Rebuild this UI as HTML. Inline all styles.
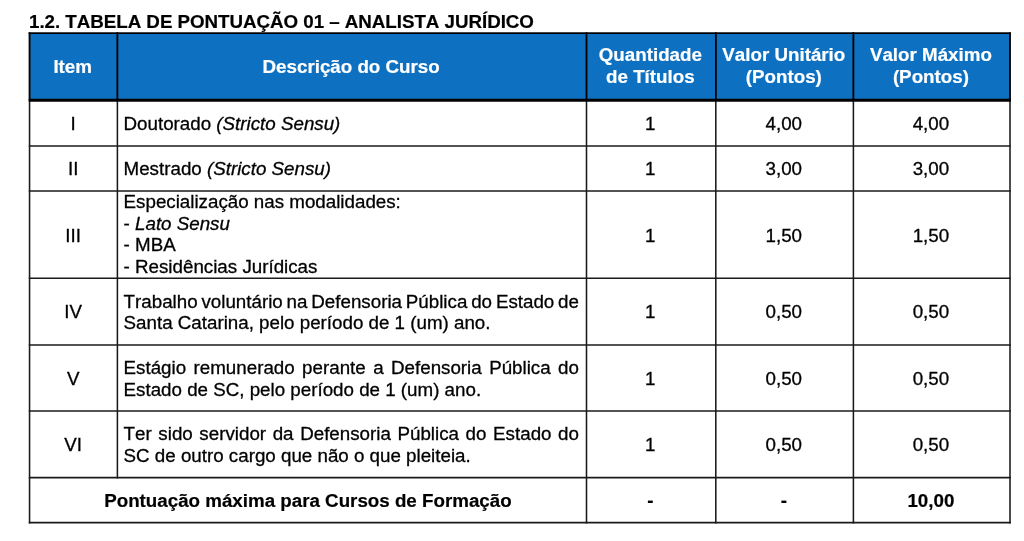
<!DOCTYPE html>
<html lang="pt-BR">
<head>
<meta charset="utf-8">
<title>1.2. Tabela de Pontuação 01 – Analista Jurídico</title>
<style>
html,body{margin:0;padding:0;background:#fff;}
body{position:relative;width:1024px;height:541px;overflow:hidden;font-family:"Liberation Sans",sans-serif;font-size:18.76px;line-height:22px;color:#000;font-kerning:none;}
/* ruled grid + header fill */
svg.grid{position:absolute;left:0;top:0;width:1024px;height:541px;}
/* text layer (own compositing layer => greyscale antialiasing like the reference) */
.sheet{position:absolute;left:0;top:0;width:1024px;height:541px;will-change:transform;-webkit-text-stroke:0.3px;}
.title{position:absolute;left:29px;top:11px;margin:0;height:22px;font-size:inherit;font-weight:bold;white-space:pre;letter-spacing:-0.03px;-webkit-text-stroke:0.2px;}
.row{position:absolute;left:0;width:1024px;}
.cell{position:absolute;top:0;bottom:0;text-align:center;}
.cell.desc{text-align:left;}
.ln{position:absolute;left:0;right:0;height:22px;white-space:pre;}
.desc .ln{left:6.2px;}
.head,.foot{font-weight:bold;-webkit-text-stroke:0.2px;}
.head{color:#fff;}
i{font-style:italic;}
</style>
</head>
<body>
<svg class="grid" width="1024" height="541" viewBox="0 0 1024 541" aria-hidden="true">
<rect x="29.55" y="33.2" width="980.45" height="67.05" fill="#0e70c1"/>
<g stroke="#1a1a1a" stroke-width="1.55" fill="none" stroke-linecap="square">
<line x1="29.55" y1="33.2" x2="1010.0" y2="33.2"/>
<line x1="29.55" y1="146.0" x2="1010.0" y2="146.0"/>
<line x1="29.55" y1="191.0" x2="1010.0" y2="191.0"/>
<line x1="29.55" y1="278.2" x2="1010.0" y2="278.2"/>
<line x1="29.55" y1="344.9" x2="1010.0" y2="344.9"/>
<line x1="29.55" y1="411.0" x2="1010.0" y2="411.0"/>
<line x1="29.55" y1="477.6" x2="1010.0" y2="477.6"/>
<line x1="29.55" y1="522.6" x2="1010.0" y2="522.6"/>
<line x1="29.55" y1="33.2" x2="29.55" y2="522.6"/>
<line x1="117.4" y1="33.2" x2="117.4" y2="477.6"/>
<line x1="586.5" y1="33.2" x2="586.5" y2="522.6"/>
<line x1="715.8" y1="33.2" x2="715.8" y2="522.6"/>
<line x1="853.4" y1="33.2" x2="853.4" y2="522.6"/>
<line x1="1010.0" y1="33.2" x2="1010.0" y2="522.6"/>
</g>
<g stroke="#000" stroke-width="1.55" fill="none" stroke-linecap="square">
<line x1="29.55" y1="33.2" x2="1010.0" y2="33.2"/>
<line x1="29.55" y1="33.2" x2="29.55" y2="100.25"/>
<line x1="117.4" y1="33.2" x2="117.4" y2="100.25"/>
<line x1="586.5" y1="33.2" x2="586.5" y2="100.25"/>
<line x1="715.8" y1="33.2" x2="715.8" y2="100.25"/>
<line x1="853.4" y1="33.2" x2="853.4" y2="100.25"/>
<line x1="1010.0" y1="33.2" x2="1010.0" y2="100.25"/>
</g>
<line x1="28.775" y1="100.25" x2="1010.775" y2="100.25" stroke="#000" stroke-width="2.8"/>
</svg>
<main class="sheet">
<h1 class="title">1.2. TABELA DE PONTUAÇÃO 01 – ANALISTA JURÍDICO</h1>
<section class="row head" style="top:33px;height:67px">
<div class="cell" style="left:28.75px;width:87.85px"><span class="ln" style="top:23px">Item</span></div>
<div class="cell" style="left:116.60px;width:469.10px"><span class="ln" style="top:23px">Descrição do Curso</span></div>
<div class="cell" style="left:585.70px;width:129.30px"><span class="ln" style="top:11px">Quantidade</span><span class="ln" style="top:33px">de Títulos</span></div>
<div class="cell" style="left:715.00px;width:137.60px"><span class="ln" style="top:11px">Valor Unitário</span><span class="ln" style="top:33px">(Pontos)</span></div>
<div class="cell" style="left:852.60px;width:156.60px"><span class="ln" style="top:11px">Valor Máximo</span><span class="ln" style="top:33px">(Pontos)</span></div>
</section>
<section class="row" style="top:100px;height:46px">
<div class="cell" style="left:29.25px;width:87.85px"><span class="ln" style="top:13px">I</span></div>
<div class="cell desc" style="left:117.40px;width:469.10px"><span class="ln" style="top:13px">Doutorado <i>(Stricto Sensu)</i></span></div>
<div class="cell" style="left:585.70px;width:129.30px"><span class="ln" style="top:13px">1</span></div>
<div class="cell" style="left:715.00px;width:137.60px"><span class="ln" style="top:13px">4,00</span></div>
<div class="cell" style="left:852.60px;width:156.60px"><span class="ln" style="top:13px">4,00</span></div>
</section>
<section class="row" style="top:146px;height:45px">
<div class="cell" style="left:29.25px;width:87.85px"><span class="ln" style="top:12px">II</span></div>
<div class="cell desc" style="left:117.40px;width:469.10px"><span class="ln" style="top:12px">Mestrado <i>(Stricto Sensu)</i></span></div>
<div class="cell" style="left:585.70px;width:129.30px"><span class="ln" style="top:12px">1</span></div>
<div class="cell" style="left:715.00px;width:137.60px"><span class="ln" style="top:12px">3,00</span></div>
<div class="cell" style="left:852.60px;width:156.60px"><span class="ln" style="top:12px">3,00</span></div>
</section>
<section class="row" style="top:191px;height:87px">
<div class="cell" style="left:29.25px;width:87.85px"><span class="ln" style="top:34px">III</span></div>
<div class="cell desc" style="left:117.40px;width:469.10px"><span class="ln" style="top:0px">Especialização nas modalidades:</span><span class="ln" style="top:22px">- <i>Lato Sensu</i></span><span class="ln" style="top:43px">- MBA</span><span class="ln" style="top:65px">- Residências Jurídicas</span></div>
<div class="cell" style="left:585.70px;width:129.30px"><span class="ln" style="top:34px">1</span></div>
<div class="cell" style="left:715.00px;width:137.60px"><span class="ln" style="top:34px">1,50</span></div>
<div class="cell" style="left:852.60px;width:156.60px"><span class="ln" style="top:34px">1,50</span></div>
</section>
<section class="row" style="top:278px;height:67px">
<div class="cell" style="left:29.25px;width:87.85px"><span class="ln" style="top:23px">IV</span></div>
<div class="cell desc" style="left:117.40px;width:469.10px"><span class="ln" style="top:13px;word-spacing:-1.356px">Trabalho voluntário na Defensoria Pública do Estado de</span><span class="ln" style="top:34px">Santa Catarina, pelo período de 1 (um) ano.</span></div>
<div class="cell" style="left:585.70px;width:129.30px"><span class="ln" style="top:23px">1</span></div>
<div class="cell" style="left:715.00px;width:137.60px"><span class="ln" style="top:23px">0,50</span></div>
<div class="cell" style="left:852.60px;width:156.60px"><span class="ln" style="top:23px">0,50</span></div>
</section>
<section class="row" style="top:345px;height:66px">
<div class="cell" style="left:29.25px;width:87.85px"><span class="ln" style="top:23px">V</span></div>
<div class="cell desc" style="left:117.40px;width:469.10px"><span class="ln" style="top:12px;word-spacing:2.24px">Estágio remunerado perante a Defensoria Pública do</span><span class="ln" style="top:34px">Estado de SC, pelo período de 1 (um) ano.</span></div>
<div class="cell" style="left:585.70px;width:129.30px"><span class="ln" style="top:23px">1</span></div>
<div class="cell" style="left:715.00px;width:137.60px"><span class="ln" style="top:23px">0,50</span></div>
<div class="cell" style="left:852.60px;width:156.60px"><span class="ln" style="top:23px">0,50</span></div>
</section>
<section class="row" style="top:411px;height:67px">
<div class="cell" style="left:29.25px;width:87.85px"><span class="ln" style="top:23px">VI</span></div>
<div class="cell desc" style="left:117.40px;width:469.10px"><span class="ln" style="top:12px;word-spacing:1.425px">Ter sido servidor da Defensoria Pública do Estado do</span><span class="ln" style="top:34px">SC de outro cargo que não o que pleiteia.</span></div>
<div class="cell" style="left:585.70px;width:129.30px"><span class="ln" style="top:23px">1</span></div>
<div class="cell" style="left:715.00px;width:137.60px"><span class="ln" style="top:23px">0,50</span></div>
<div class="cell" style="left:852.60px;width:156.60px"><span class="ln" style="top:23px">0,50</span></div>
</section>
<section class="row foot" style="top:478px;height:45px">
<div class="cell" style="left:29.45px;width:556.95px"><span class="ln" style="top:12px">Pontuação máxima para Cursos de Formação</span></div>
<div class="cell" style="left:585.70px;width:129.30px"><span class="ln" style="top:12px">-</span></div>
<div class="cell" style="left:715.00px;width:137.60px"><span class="ln" style="top:12px">-</span></div>
<div class="cell" style="left:852.60px;width:156.60px"><span class="ln" style="top:12px">10,00</span></div>
</section>
</main>
</body>
</html>
